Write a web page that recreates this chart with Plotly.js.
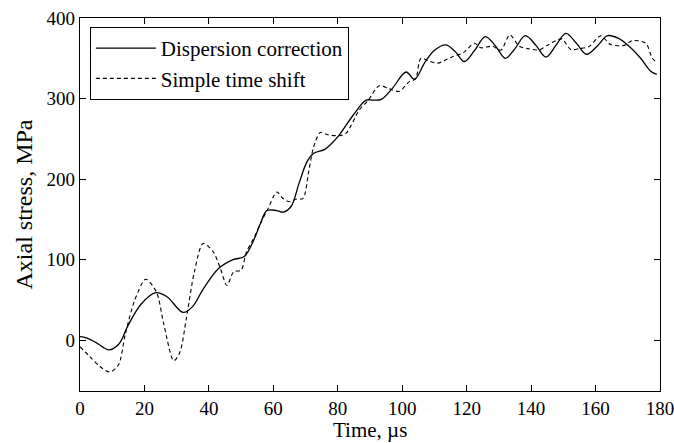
<!DOCTYPE html>
<html>
<head>
<meta charset="utf-8">
<script src="https://cdn.plot.ly/plotly-3.0.1.min.js"></script>
<style>html,body{margin:0;padding:0;background:#fff;}#chart{width:674px;height:443px;}</style>
</head>
<body>
<div id="chart"></div>
<script>
const solidX = [0, 2, 5, 9, 12, 15, 19, 23.5, 27, 32, 35, 38, 43, 47.5, 51, 54, 56, 58, 61, 63, 65.5, 68, 70.5, 72.5, 76, 78, 80.5, 84.7, 88.8, 91, 93.5, 97, 101.2, 103.8, 106.9, 110, 113.6, 116.5, 119.3, 122.5, 125.8, 129, 132, 135, 138.2, 141.5, 144.6, 147.7, 150.8, 154, 157.2, 160.5, 163.7, 167, 170.4, 174, 177.1, 179];
const solidY = [4.5, 3, -3, -12, -5, 19, 45, 59, 54, 34.5, 42, 62, 89, 100, 104, 125, 145, 161, 161, 159, 166, 195, 222, 232, 237, 244, 255, 279, 298, 298, 299, 313, 333, 324, 344, 360, 366.7, 358, 346, 360, 377, 365, 350, 362, 378, 366, 351.5, 366, 381, 369, 355, 365, 378, 375, 365, 350, 334, 330];
const dashX = [0, 3, 6, 9.3, 12, 14, 17, 20.4, 23.7, 26, 29.1, 31, 33, 35.5, 38.2, 41.3, 43.5, 45.6, 47.7, 50, 51.6, 54.2, 56, 58.3, 61.1, 63, 65, 67, 69.2, 71, 72.5, 74.6, 77, 80.5, 82.6, 86.7, 89.3, 92.9, 96, 99.1, 102.2, 104.1, 105.8, 108, 111, 115.6, 119, 122.4, 124.4, 128, 130.6, 133.4, 136.3, 139, 142.5, 145, 147.7, 149.6, 152.3, 155, 158, 161.6, 164.7, 168.8, 171.4, 175.6, 177.6, 179];
const dashY = [-8, -20, -32, -39.5, -30, 6.5, 50, 75.7, 60, 20, -25.5, -15, 27, 85, 120, 110, 90, 68, 85, 87, 109, 129, 145, 163, 184, 176, 172, 175, 176, 210, 240, 258, 255, 254, 257, 286, 297, 316, 312, 309, 321, 324, 350, 347, 344, 352, 357, 368.7, 363, 365, 360, 379, 365, 362, 360.5, 366, 372, 374, 361, 362, 364.6, 377.8, 367, 366, 372, 368.7, 350, 345];
const xTicks = [0, 20, 40, 60, 80, 100, 120, 140, 160, 180];
const yTicks = [0, 100, 200, 300, 400];
const seriesNames = ["Dispersion correction", "Simple time shift"];
const xTitle = "Time, µs";
const yTitle = "Axial stress, MPa";

const font = "Liberation Serif, Times New Roman, serif";
const traces = [
  {x: solidX, y: solidY, name: seriesNames[0], mode: "lines",
   line: {color: "#000", width: 1.3, shape: "spline", smoothing: 1}},
  {x: dashX, y: dashY, name: seriesNames[1], mode: "lines",
   line: {color: "#000", width: 1.1, dash: "4px,3px", shape: "spline", smoothing: 0.8}}
];
const axisCommon = {
  showgrid: false, zeroline: false, showline: true, linecolor: "#000", linewidth: 1.2,
  mirror: "allticks", ticks: "inside", ticklen: 6, tickwidth: 1, tickcolor: "#000",
  ticklabeloverflow: "allow", automargin: false,
  tickfont: {family: font, size: 19, color: "#000"}
};
const plotH = 443 - 18 - 52;
const layout = {
  width: 674, height: 443,
  margin: {l: 80, r: 14, t: 18, b: 52},
  paper_bgcolor: "#fff", plot_bgcolor: "#fff",
  showlegend: true,
  legend: {x: 0.017, y: 0.976, xanchor: "left", yanchor: "top",
    bordercolor: "#000", borderwidth: 1, bgcolor: "#fff", itemwidth: 60,
    font: {family: font, size: 21, color: "#000"}, tracegroupgap: 0},
  xaxis: Object.assign({}, axisCommon, {range: [0, 180], tickvals: xTicks, ticklabelstandoff: 0}),
  yaxis: Object.assign({}, axisCommon, {range: [-63, 400], tickvals: yTicks,
    title: {text: yTitle, font: {family: font, size: 24, color: "#000"}, standoff: 7}}),
  annotations: [{
    text: xTitle, xref: "paper", yref: "paper", x: 0.5, y: -52 / plotH,
    xanchor: "center", yanchor: "bottom", showarrow: false, borderpad: 0,
    font: {family: font, size: 21, color: "#000"}
  }]
};
Plotly.newPlot("chart", traces, layout, {displayModeBar: false, staticPlot: true});
</script>
</body>
</html>
